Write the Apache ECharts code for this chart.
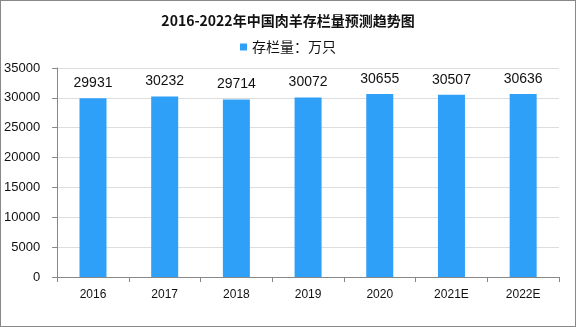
<!DOCTYPE html>
<html><head><meta charset="utf-8">
<script src="https://cdn.jsdelivr.net/npm/echarts@6/dist/echarts.min.js"></script>
<style>html,body{margin:0;padding:0;background:#fff}#c{width:576px;height:327px;box-sizing:border-box;border:1px solid #888}</style>
</head><body><div id="c"></div>
<script>
const categories = ['2016','2017','2018','2019','2020','2021E','2022E'];
const values = [29931, 30232, 29714, 30072, 30655, 30507, 30636];
const yTicks = [0,5000,10000,15000,20000,25000,30000,35000];
const chart = echarts.init(document.getElementById('c'));
chart.setOption({
  animation:false,
  title:{text:'2016-2022年中国肉羊存栏量预测趋势图',left:'center',top:8,
    textStyle:{fontSize:14,fontWeight:'bold',color:'#111',fontFamily:'Noto Sans CJK SC'}},
  legend:{top:34,left:'center',itemWidth:7,itemHeight:7,itemGap:4,icon:'rect',
    textStyle:{fontSize:14,color:'#111',fontFamily:'Noto Sans CJK SC'},data:['存栏量：万只']},
  grid:{left:56,right:16,top:67,bottom:49},
  xAxis:{type:'category',data:categories,
    axisLine:{lineStyle:{color:'#888'}},axisTick:{show:true,length:5,lineStyle:{color:'#888'}},
    axisLabel:{fontSize:12,color:'#111',margin:12,fontFamily:'Liberation Sans'}},
  yAxis:{type:'value',min:0,max:35000,interval:5000,
    axisLine:{show:true,lineStyle:{color:'#888'}},axisTick:{show:true,inside:false,length:5,lineStyle:{color:'#888'}},
    splitLine:{lineStyle:{color:'#ddd'}},
    axisLabel:{fontSize:13,color:'#111',margin:17,fontFamily:'Liberation Sans',
      formatter:v=>yTicks.includes(v)?String(v):''}},
  series:[{name:'存栏量：万只',type:'bar',data:values,barWidth:27,
    itemStyle:{color:'#2EA0F8'},
    label:{show:true,position:'top',distance:8,fontSize:14,color:'#111',fontFamily:'Liberation Sans'}}]
});
</script></body></html>
